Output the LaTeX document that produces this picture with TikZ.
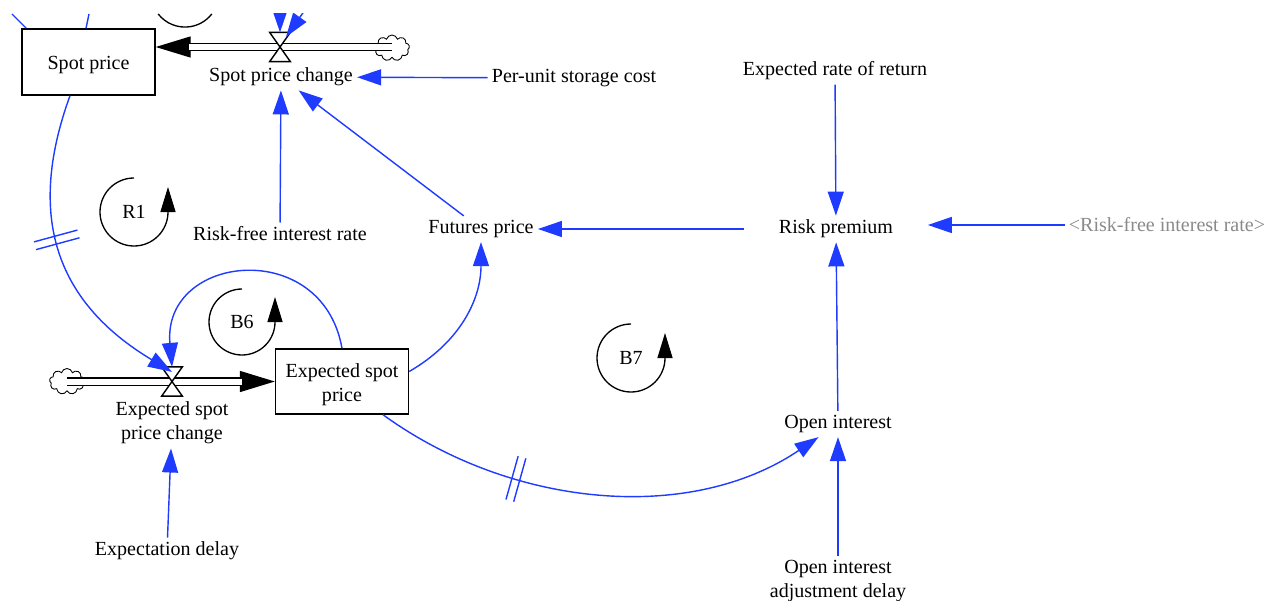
\documentclass[tikz,border=0pt]{standalone}
\usepackage{fontspec}
\setmainfont{Liberation Serif}
\usetikzlibrary{arrows.meta,shapes.symbols,decorations.markings}
\definecolor{VLink}{HTML}{1F3BFF}
\definecolor{VShadow}{HTML}{8A8A8A}

\begin{document}
\begin{tikzpicture}[x=1cm,y=1cm,
  font=\fontsize{11.4}{13.7}\selectfont,
  stock/.style={draw,line width=0.8pt,minimum width=2.66cm,minimum height=1.32cm,inner sep=0pt},
  var/.style={inner sep=0.08cm,align=center,yshift=-0.06cm},
  ghost/.style={var,text=VShadow},
  valve/.style={inner sep=0pt,minimum width=0.40cm,minimum height=0.57cm},
  cloudy/.style={cloud,draw,cloud puffs=9,aspect=1.3,inner sep=0pt,minimum width=0.70cm,minimum height=0.52cm,line width=0.5pt},
  pipe/.style={double,double distance=0.12cm,line width=0.8pt},
  pipehead/.style={line width=0.8pt,-{Triangle[length=0.7cm,width=0.42cm]}},
  linkline/.style={VLink,line width=0.8pt},
  link/.style={linkline,-{Triangle[length=0.48cm,width=0.32cm]}},
  loopline/.style={line width=0.75pt,-{Triangle[length=0.5cm,width=0.3cm]}},
  delaymark/.style={postaction={decorate,decoration={markings,mark=at position #1 with {\draw[-] (-0.08,-0.45) -- (-0.08,0.45) (0.08,-0.45) -- (0.08,0.45);}}}}]
\path[use as bounding box] (0,0) rectangle (25.64,12);

\node[stock] (sp) at (1.77,10.76) {\raisebox{-0.06cm}[\height][\depth]{Spot price}};
\node[stock,minimum height=1.30cm] (esp) at (6.84,4.37) {\raisebox{-0.07cm}[\height][\depth]{\begin{tabular}{@{}c@{}}Expected spot\\price\end{tabular}}};
\node[valve] (spv) at (5.60,11.06) {};
\node[valve] (espv) at (3.44,4.37) {};
\node[cloudy] (spcloud) at (7.84,11.04) {};
\node[cloudy] (espcloud) at (1.34,4.37) {};

\node[var] (spchg) at (5.62,10.52) {Spot price change};
\node[var] (puc) at (11.48,10.50) {Per-unit storage cost};
\node[var] (rfr) at (5.60,7.38) {Risk-free interest rate};
\node[var] (fp) at (9.62,7.48) {Futures price};
\node[var] (err) at (16.70,10.64) {Expected rate of return};
\node[var,minimum width=3.66cm] (rp) at (16.72,7.48) {Risk premium};
\node[ghost] (rfr2) at (23.34,7.56) {<Risk-free interest rate>};
\node[var] (oi) at (16.76,3.58) {Open interest};
\node[var] (oiad) at (16.76,0.44) {Open interest\\adjustment delay};
\node[var] (espchg) at (3.44,3.60) {Expected spot\\price change};
\node[var] (ed) at (3.34,1.04) {Expectation delay};
\node (r1) at (2.68,7.76) {R1};
\node (b6) at (4.84,5.56) {B6};
\node (b7) at (12.62,4.84) {B7};

\draw[pipehead] (spv) -- (sp.east |- spv);
\draw[pipe,shorten >=0.66cm] (spcloud.center |- spv) -- (sp.east |- spv);
\draw[pipehead] (espv) -- (esp.west);
\draw[pipe,shorten >=0.66cm] (espcloud.center) -- (esp.west);
\foreach \v in {spv,espv}
  \draw[line width=0.8pt,fill=white] (\v.north west) -- (\v.north east) -- (\v.south west) -- (\v.south east) -- cycle;

\foreach \lp/\r in {r1/0.68,b6/0.66,b7/0.68}
  \draw[loopline] (\lp.center) ++(0,\r) arc[start angle=90,end angle=360,radius=\r] -- ++(0,0.5);
\draw[line width=0.75pt] (3.164,11.72) arc[start angle=218,end angle=322,radius=0.68];

\coordinate (offa) at (0.24,11.72);
\coordinate (offb) at (1.78,11.72);
\draw[linkline] (offa) -- ([xshift=0.1cm]sp.north west);
\draw[linkline] (offb) -- ([xshift=-0.05cm]sp.north);
\begin{scope}
\clip (0,0) rectangle (25.64,11.72);
\coordinate (offc) at (5.60,12.50);
\coordinate (offd) at (6.41,12.24);
\draw[link] (offc) -- (spv.north);
\draw[link] (offd) -- ([xshift=0.12cm,yshift=-0.09cm]spv.north);
\end{scope}

\draw[link] (puc) -- (spchg);
\draw[link] (rfr) -- (spchg);
\draw[link] (fp) -- (spchg);
\draw[link] (err) -- (rp);
\draw[link] (rp) -- (fp);
\draw[link] (rfr2.west) -- (rfr2.west -| rp.east);
\draw[link] (oi) -- (rp);
\draw[link] (oiad) -- (oi);
\draw[link] (ed) -- (espchg);
\draw[link] (esp.north) to[out=100,in=95,looseness=1.7] (espv.north);
\draw[link] ([yshift=0.2cm]esp.east) to[out=30,in=270] (fp.south);
\draw[link,delaymark=0.45] ([xshift=-0.37cm]sp.south) to[out=250,in=149,looseness=1.15] ([yshift=-0.1cm]espv.north);
\draw[link,delaymark=0.32] ([xshift=0.82cm]esp.south) to[out=-36,in=214,looseness=0.92] (oi);
\end{tikzpicture}
\end{document}
